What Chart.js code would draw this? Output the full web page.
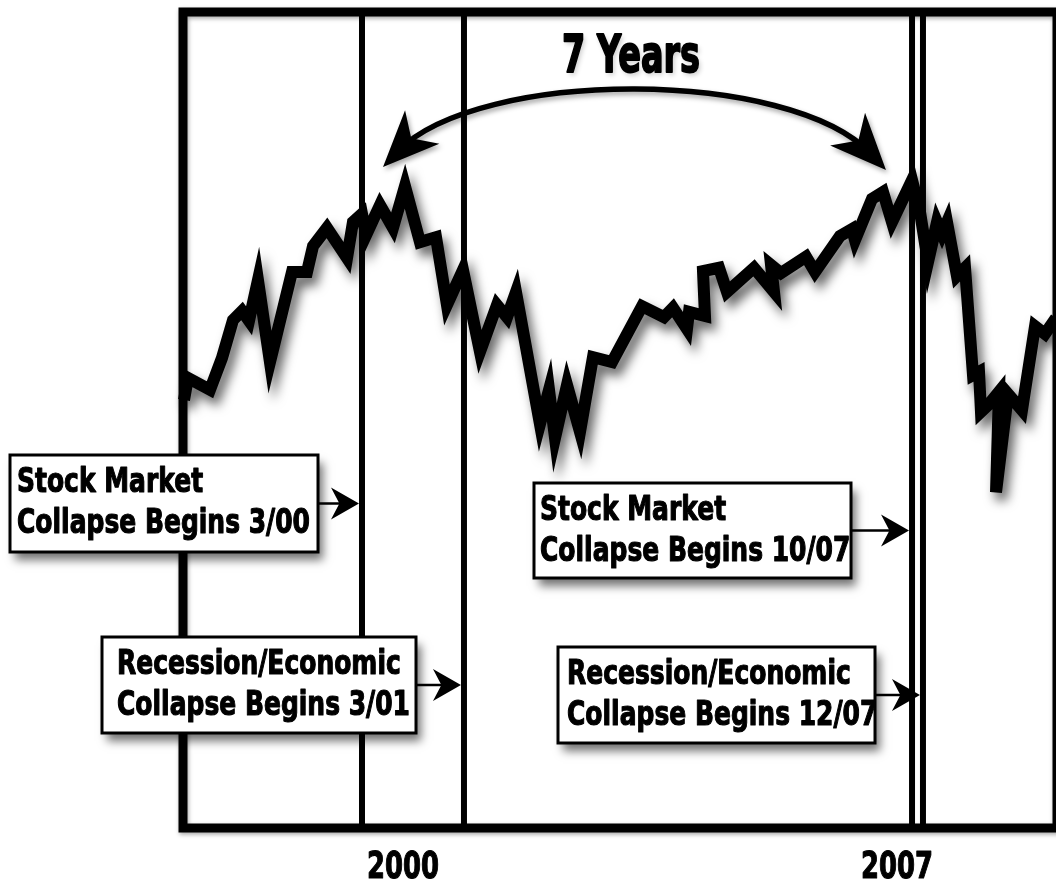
<!DOCTYPE html>
<html><head><meta charset="utf-8">
<script src="https://cdn.jsdelivr.net/npm/chart.js@4.4.1/dist/chart.umd.min.js"></script>
<style>
html,body{margin:0;padding:0;background:#fff;overflow:hidden;}
#wrap{position:relative;width:1070px;height:882px;}
</style></head><body>
<div id="wrap"><canvas id="c"></canvas></div>
<script>
// ---- data (decimal year, index level) ----
const years = [1996.897,1996.953,1997.265,1997.435,1997.591,1997.719,1997.818,1997.945,1998.115,1998.427,
 1998.640,1998.725,1998.923,1999.207,1999.291,1999.419,1999.476,1999.674,1999.858,2000.028,
 2000.241,2000.468,2000.623,2000.850,2001.091,2001.332,2001.474,2001.601,2001.941,2002.069,
 2002.154,2002.324,2002.508,2002.692,2002.962,2003.387,2003.698,2003.826,2004.024,2004.053,
 2004.279,2004.251,2004.478,2004.591,2004.974,2005.257,2005.215,2005.356,2005.711,2005.838,
 2006.192,2006.362,2006.405,2006.646,2006.802,2006.929,2007.213,2007.326,2007.439,2007.567,
 2007.638,2007.709,2007.850,2007.964,2008.077,2008.162,2008.190,2008.304,2008.445,2008.403,
 2008.573,2008.771,2008.956,2009.097,2009.253];
const levels = [949,1003,974,1052,1145,1167,1143,1243,1042,1263,
 1263,1326,1371,1297,1385,1405,1353,1427,1371,1473,
 1336,1348,1182,1268,1067,1182,1152,1214,890,974,
 856,986,871,1054,1042,1179,1152,1175,1123,1165,
 1155,1265,1273,1214,1273,1214,1280,1260,1300,1263,
 1351,1368,1341,1442,1459,1385,1488,1410,1287,1385,
 1356,1385,1253,1273,1010,1018,920,939,969,723,
 964,924,1130,1111,1150];
const tickYears = [2000, 2007];
const eventYears = [1999.419, 2000.864, 2007.213, 2007.368];
const eventLabels = [
  ["Stock Market", "Collapse Begins 3/00"],
  ["Recession/Economic", "Collapse Begins 3/01"],
  ["Stock Market", "Collapse Begins 10/07"],
  ["Recession/Economic", "Collapse Begins 12/07"]
];
const spanLabel = "7 Years";
const spanEnds = [[1999.717, 1520], [2006.844, 1513]];

// ---- layout (pixels) ----
const boxes = [
  {l:10,  t:455, r:318, b:552, tx:17},
  {l:102, t:637, r:416, b:733, tx:117},
  {l:534, t:483, r:851, b:578, tx:540},
  {l:558, t:647, r:875, b:743, tx:567}
];
const FONT = '"DejaVu Sans", "Liberation Sans", sans-serif';

function drawText(ctx, s, x, y, size, sx, align, heavy) {
  ctx.save();
  ctx.translate(x, y);
  ctx.scale(sx, 1);
  ctx.font = 'bold ' + size + 'px ' + FONT;
  ctx.textAlign = align || 'left';
  ctx.textBaseline = 'alphabetic';
  ctx.fillStyle = '#000';
  ctx.fillText(s, 0, 0);
  if (heavy) {
    ctx.shadowColor = 'transparent';
    ctx.strokeStyle = '#000';
    ctx.lineWidth = heavy;
    ctx.lineJoin = 'round';
    ctx.strokeText(s, 0, 0);
  }
  ctx.restore();
}
function arrowHead(ctx, tx, ty, ang, len, hw, notch) {
  const c = Math.cos(ang), s = Math.sin(ang);
  const bx = tx - c * len, by = ty - s * len;
  const nx = tx - c * len * notch, ny = ty - s * len * notch;
  ctx.beginPath();
  ctx.moveTo(tx, ty);
  ctx.lineTo(bx - s * hw, by + c * hw);
  ctx.lineTo(nx, ny);
  ctx.lineTo(bx + s * hw, by - c * hw);
  ctx.closePath();
  ctx.fill();
}

const decor = {
  id: 'decor',
  beforeDatasetsDraw(chart) {
    const {ctx, chartArea: a, scales: {x}} = chart;
    ctx.save();
    ctx.shadowColor = 'rgba(0,0,0,0.35)';
    ctx.shadowBlur = 4; ctx.shadowOffsetX = 1; ctx.shadowOffsetY = 2;
    ctx.strokeStyle = '#000';
    ctx.lineWidth = 9;
    ctx.strokeRect(a.left, a.top, a.right - a.left, a.bottom - a.top);
    ctx.shadowColor = 'transparent';
    ctx.lineWidth = 6;
    eventYears.forEach(v => {
      const px = x.getPixelForValue(v);
      ctx.beginPath(); ctx.moveTo(px, a.top); ctx.lineTo(px, a.bottom); ctx.stroke();
    });
    ctx.restore();
  },
  beforeDatasetDraw(chart) {
    const ctx = chart.ctx;
    ctx.save();
    ctx.miterLimit = 10;
    ctx.shadowColor = 'rgba(0,0,0,0.6)';
    ctx.shadowBlur = 11; ctx.shadowOffsetX = 5; ctx.shadowOffsetY = 8;
  },
  afterDatasetDraw(chart) { chart.ctx.restore(); },
  afterDatasetsDraw(chart) {
    const {ctx, scales: {x, y}} = chart;
    ctx.save();
    // span arc
    const p0 = [x.getPixelForValue(spanEnds[0][0]), y.getPixelForValue(spanEnds[0][1])];
    const p3 = [x.getPixelForValue(spanEnds[1][0]), y.getPixelForValue(spanEnds[1][1])];
    const c1 = [p0[0] + 97, 68], c2 = [p3[0] - 96, 68];
    ctx.save();
    ctx.shadowColor = 'rgba(0,0,0,0.35)';
    ctx.shadowBlur = 5; ctx.shadowOffsetX = 2; ctx.shadowOffsetY = 3;
    ctx.strokeStyle = '#000'; ctx.fillStyle = '#000';
    ctx.lineWidth = 5.5;
    ctx.beginPath();
    ctx.moveTo(p0[0] + 15, p0[1] - 16);
    ctx.bezierCurveTo(c1[0], c1[1], c2[0], c2[1], p3[0] - 15, p3[1] - 16);
    ctx.stroke();
    arrowHead(ctx, p0[0], p0[1], Math.atan2(p0[1] - c1[1], p0[0] - c1[0]), 56, 24, 0.72);
    arrowHead(ctx, p3[0], p3[1], Math.atan2(p3[1] - c2[1], p3[0] - c2[0]), 56, 24, 0.72);
    ctx.shadowColor = 'rgba(0,0,0,0.2)';
    ctx.font = 'bold 52px ' + FONT;
    const sxT = 138 / ctx.measureText(spanLabel).width;
    drawText(ctx, spanLabel, 631, 72, 52, sxT, 'center', 2);
    ctx.restore();

    // boxes
    ctx.font = 'bold 33px ' + FONT;
    const sxB = 293 / ctx.measureText(eventLabels[0][1]).width;
    boxes.forEach((bx, i) => {
      ctx.save();
      ctx.shadowColor = 'rgba(0,0,0,0.55)';
      ctx.shadowBlur = 9; ctx.shadowOffsetX = 5; ctx.shadowOffsetY = 8;
      ctx.fillStyle = '#fff';
      ctx.fillRect(bx.l, bx.t, bx.r - bx.l, bx.b - bx.t);
      ctx.restore();
      ctx.save();
      ctx.strokeStyle = '#000'; ctx.lineWidth = 3;
      ctx.strokeRect(bx.l, bx.t, bx.r - bx.l, bx.b - bx.t);
      drawText(ctx, eventLabels[i][0], bx.tx, bx.t + 37, 33, sxB, 'left', 1.2);
      drawText(ctx, eventLabels[i][1], bx.tx, bx.t + 78, 33, sxB, 'left', 1.2);
      const tip = x.getPixelForValue(eventYears[i]) - 3;
      const ay = (bx.t + bx.b) / 2;
      ctx.lineWidth = 2.5;
      ctx.beginPath(); ctx.moveTo(bx.r, ay); ctx.lineTo(tip - 10, ay); ctx.stroke();
      ctx.fillStyle = '#000';
      arrowHead(ctx, tip, ay, 0, 28, 16, 0.7);
      ctx.restore();
    });
    ctx.restore();
  },
  afterDraw(chart) {
    const {ctx, scales: {x}} = chart;
    ctx.save();
    ctx.font = 'bold 38px ' + FONT;
    x.ticks.forEach((t, i) => {
      const s = String(t.label);
      const sx = 72 / ctx.measureText(s).width;
      drawText(ctx, s, x.getPixelForTick(i), 878, 38, sx, 'center', 1.2);
    });
    ctx.restore();
  }
};

new Chart(document.getElementById('c'), {
  type: 'line',
  data: {
    datasets: [{
      data: years.map((v, i) => ({x: v, y: levels[i]})),
      borderColor: '#000',
      borderWidth: 12,
      borderJoinStyle: 'miter',
      borderCapStyle: 'butt',
      tension: 0,
      pointRadius: 0,
      clip: false
    }]
  },
  options: {
    responsive: true,
    maintainAspectRatio: false,
    animation: false,
    events: [],
    layout: {padding: {left: 183, top: 12, right: 13, bottom: 0}},
    plugins: {legend: {display: false}, tooltip: {enabled: false}},
    scales: {
      x: {
        type: 'linear',
        min: 1996.8826, max: 2009.2672,
        grid: {display: false, drawTicks: false},
        border: {display: false},
        afterBuildTicks: s => { s.ticks = tickYears.map(v => ({value: v})); },
        afterFit: s => { s.height = 54; },
        ticks: {
          padding: 13,
          color: 'rgba(0,0,0,0)',
          maxRotation: 0,
          autoSkip: false,
          font: {family: FONT, size: 30, weight: 'bold'},
          callback: v => String(v)
        }
      },
      y: {type: 'linear', min: -100, max: 1900, display: false}
    }
  },
  plugins: [decor]
});
</script>
</body></html>
